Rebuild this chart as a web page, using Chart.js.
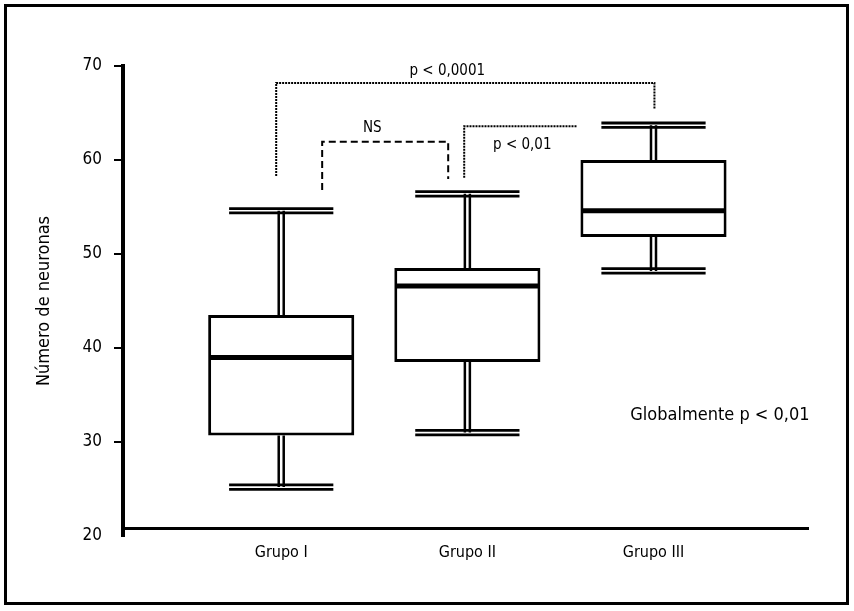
<!DOCTYPE html>
<html><head><meta charset="utf-8">
<script src="https://cdn.jsdelivr.net/npm/chart.js@4"></script>
<style>
html,body{margin:0;padding:0;background:#fff;}
#wrap{width:854px;height:611px;position:relative;}
canvas{display:block;}
#frame{position:absolute;left:4px;top:4px;width:839px;height:595px;border:3px solid #000;pointer-events:none;}
</style>
</head><body>
<div id="wrap"><canvas id="c" width="854" height="611"></canvas><div id="frame"></div></div>
<script>
// ---- data ----
const categories  = ['Grupo I', 'Grupo II', 'Grupo III'];
const whiskerLow  = [25.2, 31.0, 48.2];
const q1          = [30.7, 38.5, 51.8];
const median      = [39.0, 46.6, 54.6];
const q3          = [43.5, 48.5, 60.0];
const whiskerHigh = [54.6, 56.4, 63.7];
const yTicks      = [20, 30, 40, 50, 60, 70];
const yTitle      = 'Número de neuronas';
const globalNote  = 'Globalmente p < 0,01';
const compLabels  = ['p < 0,0001', 'NS', 'p < 0,01'];

// ---- annotation geometry (data units) ----
const brackets = [
  {x1: 0.973, x2: 3.005, top: 68.2, left: 58.3, right: 65.4, dash: [2, 1], width: 2,
   label: compLabels[0], lx: 1.892, ly: 69.5},
  {x1: 1.22, x2: 1.897, top: 61.95, left: 56.8, right: 57.98, dash: [7, 4], width: 2,
   label: compLabels[1], lx: 1.489, ly: 63.4},
  {x1: 1.983, x2: 2.59, top: 63.6, left: 58.1, right: null, dash: [2, 1], width: 2,
   label: compLabels[2], lx: 2.295, ly: 61.6}
];
const noteAt = {x: 3.357, y: 32.8};

const FONT = "'DejaVu Sans Condensed', 'Liberation Sans', sans-serif";

const boxPlugin = {
  id: 'boxParts',
  afterDatasetsDraw(chart) {
    const ctx = chart.ctx;
    const xs = chart.scales.x, ys = chart.scales.y;
    const meta = chart.getDatasetMeta(0);
    const capHalf = 0.28;
    ctx.save();
    ctx.strokeStyle = '#000';
    ctx.lineCap = 'butt';
    meta.data.forEach((bar, i) => {
      const cx = bar.x;
      const hw = bar.width / 2;
      ctx.lineWidth = 5;
      ctx.beginPath();
      const my = ys.getPixelForValue(median[i]);
      ctx.moveTo(cx - hw + 2, my); ctx.lineTo(cx + hw - 2, my); ctx.stroke();
      const yHi = ys.getPixelForValue(whiskerHigh[i]);
      const yLo = ys.getPixelForValue(whiskerLow[i]);
      const yQ3 = ys.getPixelForValue(q3[i]);
      const yQ1 = ys.getPixelForValue(q1[i]);
      ctx.lineWidth = 2.5;
      [-2.5, 2.5].forEach(d => {
        ctx.beginPath();
        ctx.moveTo(cx + d, yHi); ctx.lineTo(cx + d, yQ3);
        ctx.moveTo(cx + d, yQ1); ctx.lineTo(cx + d, yLo);
        ctx.stroke();
      });
      const xl = xs.getPixelForValue(i + 1 - capHalf);
      const xr = xs.getPixelForValue(i + 1 + capHalf);
      ctx.lineWidth = 2.8;
      [yHi, yLo].forEach(y => {
        [-2.2, 2.2].forEach(d => {
          ctx.beginPath(); ctx.moveTo(xl, y + d); ctx.lineTo(xr, y + d); ctx.stroke();
        });
      });
    });
    ctx.fillStyle = '#000';
    ctx.textAlign = 'center';
    ctx.textBaseline = 'middle';
    brackets.forEach(b => {
      ctx.setLineDash(b.dash);
      ctx.lineWidth = b.width;
      ctx.beginPath();
      ctx.moveTo(xs.getPixelForValue(b.x1), ys.getPixelForValue(b.left));
      ctx.lineTo(xs.getPixelForValue(b.x1), ys.getPixelForValue(b.top));
      ctx.lineTo(xs.getPixelForValue(b.x2), ys.getPixelForValue(b.top));
      if (b.right !== null) ctx.lineTo(xs.getPixelForValue(b.x2), ys.getPixelForValue(b.right));
      ctx.stroke();
      ctx.setLineDash([]);
      ctx.font = '15px ' + FONT;
      ctx.fillText(b.label, xs.getPixelForValue(b.lx), ys.getPixelForValue(b.ly));
    });
    ctx.font = '18px ' + FONT;
    ctx.fillText(globalNote, xs.getPixelForValue(noteAt.x), ys.getPixelForValue(noteAt.y));
    ctx.restore();
  }
};

new Chart(document.getElementById('c'), {
  type: 'bar',
  data: {
    datasets: [{
      data: categories.map((c, i) => ({x: i + 1, y: [q1[i], q3[i]]})),
      backgroundColor: '#fff',
      borderColor: '#000',
      borderWidth: 3,
      borderSkipped: false,
      barPercentage: 0.785,
      categoryPercentage: 1
    }]
  },
  options: {
    responsive: false,
    animation: false,
    events: [],
    layout: {padding: {top: 66, right: 46, bottom: 75, left: 0}},
    plugins: {legend: {display: false}, tooltip: {enabled: false}, title: {display: false}},
    scales: {
      x: {
        type: 'linear',
        offset: false,
        min: 0.15, max: 3.83,
        position: {y: 20.75},
        afterBuildTicks: s => { s.ticks = categories.map((c, i) => ({value: i + 1})); },
        grid: {display: false, offset: false},
        border: {display: true, color: '#000', width: 3},
        ticks: {
          color: '#000', font: {family: FONT, size: 16}, padding: 6,
          autoSkip: false, maxRotation: 0,
          callback: v => categories[Math.round(v) - 1]
        }
      },
      y: {
        min: 20, max: 70,
        afterBuildTicks: s => { s.ticks = yTicks.map(v => ({value: v})); },
        afterFit: s => { s.width = 123; },
        grid: {
          display: true, drawOnChartArea: false, drawTicks: true, tickLength: 9, lineWidth: 2,
          color: c => (c.tick && c.tick.value === 20) ? 'rgba(0,0,0,0)' : '#000'
        },
        border: {display: true, color: '#000', width: 4},
        ticks: {color: '#000', font: {family: FONT, size: 17}, padding: 12},
        title: {display: true, text: yTitle, color: '#000', font: {family: FONT, size: 18},
                padding: {top: 34, bottom: 0}}
      }
    }
  },
  plugins: [boxPlugin]
});
</script>
</body></html>
